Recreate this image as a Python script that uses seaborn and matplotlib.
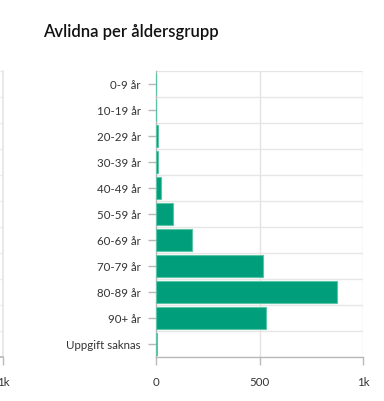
import matplotlib
matplotlib.use("Agg")
import matplotlib.pyplot as plt
import seaborn as sns
import pandas as pd

categories = ["0-9 år", "10-19 år", "20-29 år", "30-39 år", "40-49 år", "50-59 år",
              "60-69 år", "70-79 år", "80-89 år", "90+ år", "Uppgift saknas"]
values = [2, 1, 9, 9, 26, 81, 173, 519, 874, 531, 3]
x_ticks = [0, 500, 1000]
x_tick_labels = ["0", "500", "1k"]
title = "Avlidna per åldersgrupp"

df = pd.DataFrame({"grupp": categories, "antal": values})

sns.set_theme(style="white")
plt.rcParams["font.family"] = ["Lato", "DejaVu Sans"]

fig = plt.figure(figsize=(3.84, 4.02), dpi=100)
ax = fig.add_axes([156 / 384, 1 - 358 / 402, 207 / 384, 286 / 402])

sns.barplot(data=df, x="antal", y="grupp", ax=ax, color="#009e7a", saturation=1,
            width=0.86, edgecolor="#5cc4a6", linewidth=0.8, orient="h")
for p in ax.patches:
    p.set_zorder(3)

ax.set_xlim(0, 1000)
ax.set_ylim(len(categories) - 0.5, -0.5)
ax.set_xticks(x_ticks)
ax.set_xticklabels(x_tick_labels)
ax.set_xlabel("")
ax.set_ylabel("")

# grid: vertical at ticks, horizontal between categories
for xv in x_ticks[1:]:
    ax.axvline(xv, color="#e3e3e3", lw=1, zorder=0)
for i in range(len(categories) + 1):
    ax.axhline(i - 0.5, color="#e6e6e6", lw=1, zorder=0)

for s in ["top", "right"]:
    ax.spines[s].set_visible(False)
ax.spines["left"].set_color("#b8b8b8")
ax.spines["bottom"].set_color("#b8b8b8")
ax.spines["left"].set_linewidth(1)
ax.spines["bottom"].set_linewidth(1)
ax.spines["left"].set_zorder(1)
ax.tick_params(axis="y", length=6, width=1, color="#b8b8b8", labelsize=8.3,
               labelcolor="#333333", pad=5, left=True)
ax.tick_params(axis="x", length=6, width=1, color="#b8b8b8", labelsize=8.3,
               labelcolor="#333333", pad=8, bottom=True)

fig.text(43 / 384, 1 - 32 / 402, title, fontsize=12, fontweight="semibold",
         color="#111111", va="center", ha="left")

# remnant of neighbouring chart at the left edge
ax2 = fig.add_axes([-0.5, 1 - 358 / 402, 0.5 + 3 / 384, 286 / 402])
ax2.set_xlim(0, 1000)
ax2.set_xticks([1000])
ax2.set_xticklabels(["1k"])
ax2.set_yticks([])
for s in ["top", "left"]:
    ax2.spines[s].set_visible(False)
ax2.spines["right"].set_color("#e6e6e6")
ax2.spines["bottom"].set_color("#b8b8b8")
ax2.tick_params(axis="x", length=6, width=1, color="#b8b8b8", labelsize=8.3,
                labelcolor="#333333", pad=8, bottom=True)
for i in range(len(categories) + 1):
    ax2.axhline(i / len(categories), color="#eeeeee", lw=1, zorder=0)

fig.savefig("out.png", dpi=100)
